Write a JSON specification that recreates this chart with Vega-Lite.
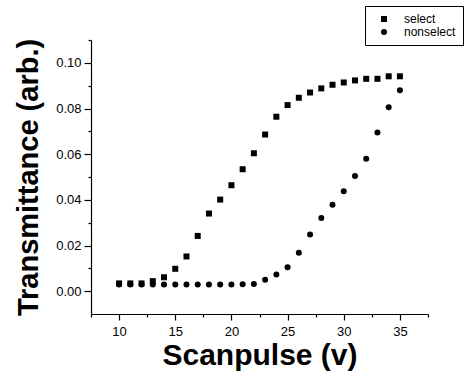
{
  "$schema": "https://vega.github.io/schema/vega-lite/v6.json",
  "width": 337,
  "height": 274,
  "autosize": {"type": "none"},
  "padding": {"left": 91, "top": 40, "right": 42, "bottom": 59},
  "background": "white",
  "config": {
    "view": {"stroke": null},
    "font": "Liberation Sans",
    "axis": {"domainColor": "black", "tickColor": "black", "labelColor": "black", "titleColor": "black", "grid": false, "domainWidth": 1.2, "tickWidth": 1.2}
  },
  "data": {
    "values": [
      {"v": 10, "t": 0.0034, "s": "select"},
      {"v": 11, "t": 0.0034, "s": "select"},
      {"v": 12, "t": 0.0034, "s": "select"},
      {"v": 13, "t": 0.0044, "s": "select"},
      {"v": 14, "t": 0.0061, "s": "select"},
      {"v": 15, "t": 0.0098, "s": "select"},
      {"v": 16, "t": 0.0152, "s": "select"},
      {"v": 17, "t": 0.0242, "s": "select"},
      {"v": 18, "t": 0.0340, "s": "select"},
      {"v": 19, "t": 0.0401, "s": "select"},
      {"v": 20, "t": 0.0464, "s": "select"},
      {"v": 21, "t": 0.0534, "s": "select"},
      {"v": 22, "t": 0.0604, "s": "select"},
      {"v": 23, "t": 0.0686, "s": "select"},
      {"v": 24, "t": 0.0764, "s": "select"},
      {"v": 25, "t": 0.0815, "s": "select"},
      {"v": 26, "t": 0.0847, "s": "select"},
      {"v": 27, "t": 0.0870, "s": "select"},
      {"v": 28, "t": 0.0888, "s": "select"},
      {"v": 29, "t": 0.0904, "s": "select"},
      {"v": 30, "t": 0.0914, "s": "select"},
      {"v": 31, "t": 0.0923, "s": "select"},
      {"v": 32, "t": 0.0930, "s": "select"},
      {"v": 33, "t": 0.0930, "s": "select"},
      {"v": 34, "t": 0.0941, "s": "select"},
      {"v": 35, "t": 0.0941, "s": "select"},
      {"v": 10, "t": 0.0029, "s": "nonselect"},
      {"v": 11, "t": 0.0029, "s": "nonselect"},
      {"v": 12, "t": 0.0029, "s": "nonselect"},
      {"v": 13, "t": 0.0029, "s": "nonselect"},
      {"v": 14, "t": 0.0029, "s": "nonselect"},
      {"v": 15, "t": 0.0029, "s": "nonselect"},
      {"v": 16, "t": 0.0029, "s": "nonselect"},
      {"v": 17, "t": 0.0029, "s": "nonselect"},
      {"v": 18, "t": 0.0029, "s": "nonselect"},
      {"v": 19, "t": 0.0029, "s": "nonselect"},
      {"v": 20, "t": 0.0029, "s": "nonselect"},
      {"v": 21, "t": 0.0030, "s": "nonselect"},
      {"v": 22, "t": 0.0031, "s": "nonselect"},
      {"v": 23, "t": 0.0050, "s": "nonselect"},
      {"v": 24, "t": 0.0073, "s": "nonselect"},
      {"v": 25, "t": 0.0105, "s": "nonselect"},
      {"v": 26, "t": 0.0168, "s": "nonselect"},
      {"v": 27, "t": 0.0248, "s": "nonselect"},
      {"v": 28, "t": 0.0320, "s": "nonselect"},
      {"v": 29, "t": 0.0378, "s": "nonselect"},
      {"v": 30, "t": 0.0438, "s": "nonselect"},
      {"v": 31, "t": 0.0504, "s": "nonselect"},
      {"v": 32, "t": 0.0580, "s": "nonselect"},
      {"v": 33, "t": 0.0695, "s": "nonselect"},
      {"v": 34, "t": 0.0806, "s": "nonselect"},
      {"v": 35, "t": 0.0880, "s": "nonselect"}
    ]
  },
  "mark": {"type": "point", "filled": true, "color": "black", "opacity": 1, "size": 36},
  "encoding": {
    "x": {
      "field": "v", "type": "quantitative",
      "scale": {"domain": [7.5, 37.5], "nice": false, "zero": false},
      "axis": {
        "title": "Scanpulse (v)",
        "titleFontSize": 30, "titleFontWeight": "bold", "titlePadding": 2,
        "values": [7.5, 10, 12.5, 15, 17.5, 20, 22.5, 25, 27.5, 30, 32.5, 35, 37.5],
        "labelExpr": "datum.value % 5 == 0 ? datum.label : ''",
        "labelFontSize": 13, "labelPadding": 5, "labelOverlap": false, "labelFlush": false,
        "tickSize": {"condition": {"test": "datum.value % 5 == 0", "value": 6}, "value": 3}
      }
    },
    "y": {
      "field": "t", "type": "quantitative",
      "scale": {"domain": [-0.01, 0.11], "nice": false, "zero": false},
      "axis": {
        "title": "Transmittance (arb.)",
        "titleFontSize": 29, "titleFontWeight": "bold", "titlePadding": 12,
        "values": [0, 0.01, 0.02, 0.03, 0.04, 0.05, 0.06, 0.07, 0.08, 0.09, 0.1, 0.11],
        "labelExpr": "round(datum.value * 100) % 2 == 0 ? format(datum.value, '.2f') : ''",
        "labelFontSize": 13, "labelPadding": 3, "labelOverlap": false, "labelFlush": false,
        "tickSize": {"condition": {"test": "round(datum.value * 100) % 2 == 0", "value": 7}, "value": 3}
      }
    },
    "shape": {
      "field": "s", "type": "nominal",
      "scale": {"domain": ["select", "nonselect"], "range": ["square", "circle"]},
      "legend": {
        "title": null, "orient": "none", "legendX": 274, "legendY": -34,
        "strokeColor": "black", "padding": 7, "symbolOffset": 6,
        "symbolSize": 36, "symbolFillColor": "black", "symbolStrokeColor": "black",
        "labelFontSize": 12, "labelOffset": 14, "rowPadding": 1, "fillColor": "white"
      }
    }
  }
}
